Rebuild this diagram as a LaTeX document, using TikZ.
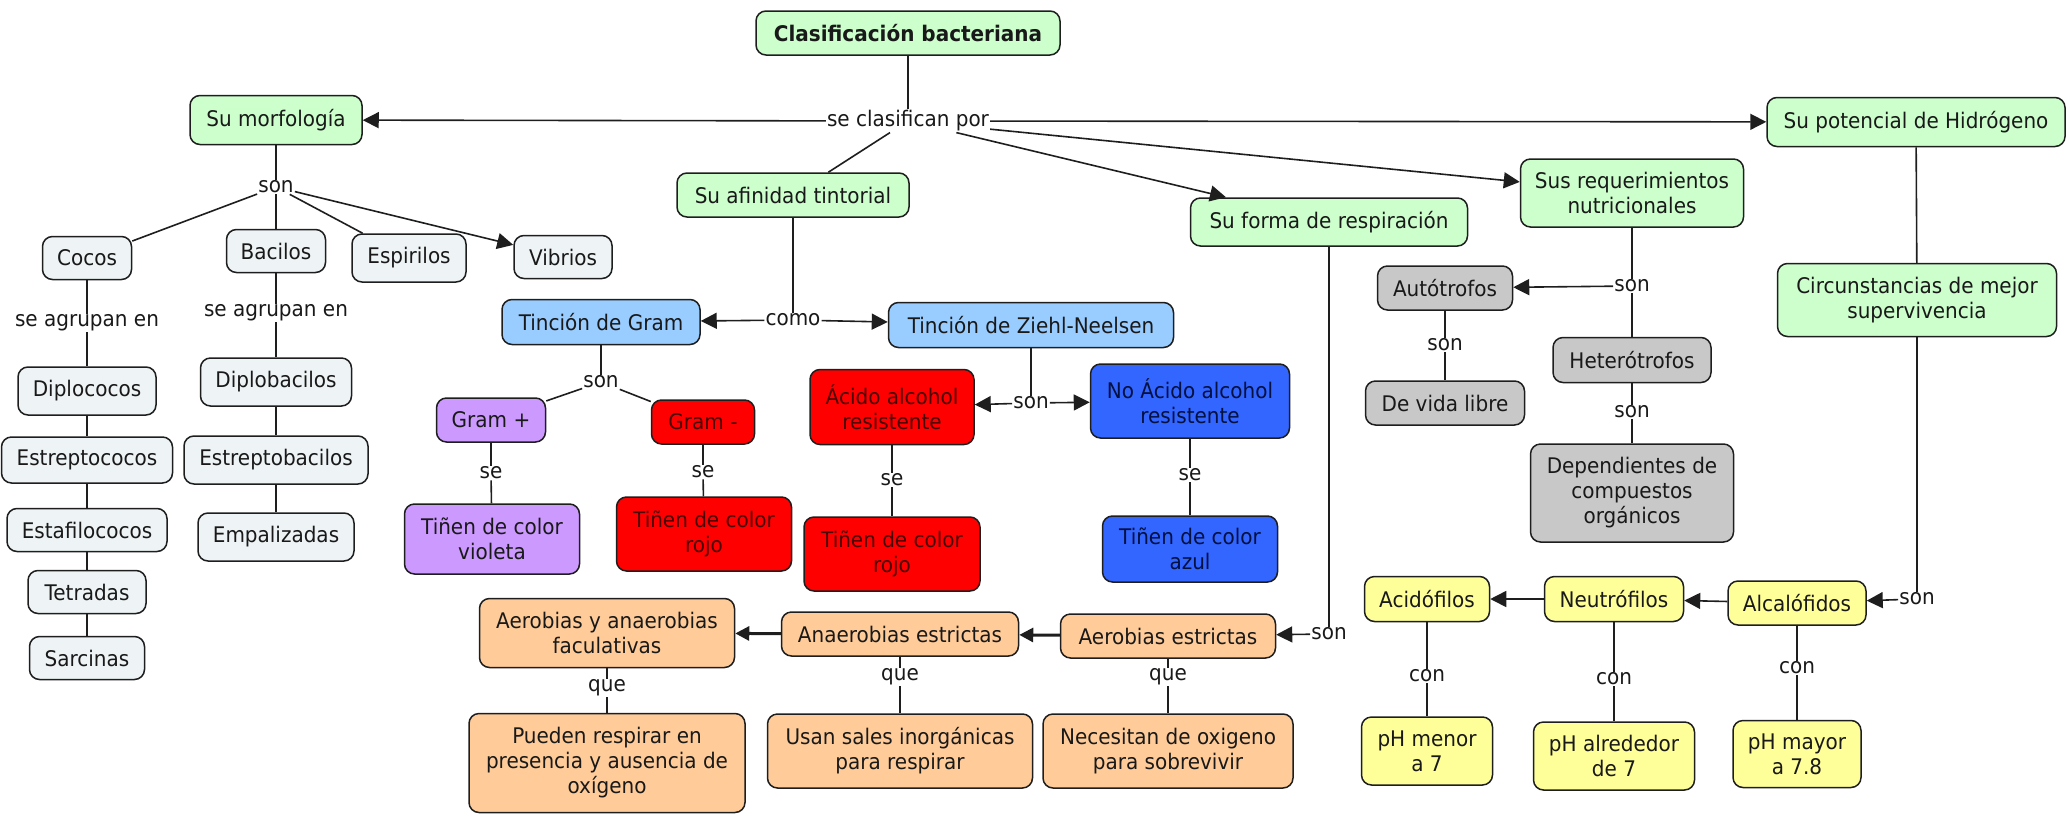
\documentclass[tikz,border=0pt]{standalone}
\usepackage{fontspec}
\setmainfont{DejaVu Sans}[FakeStretch=0.93]
\usetikzlibrary{arrows.meta}
\definecolor{cgreen}{HTML}{CCFFCC}
\definecolor{clight}{HTML}{EEF3F5}
\definecolor{clblue}{HTML}{99CCFF}
\definecolor{cviol}{HTML}{CC99FF}
\definecolor{cred}{HTML}{FF0000}
\definecolor{cblue}{HTML}{3366FF}
\definecolor{cgray}{HTML}{C8C8C8}
\definecolor{corange}{HTML}{FFCC99}
\definecolor{cyellow}{HTML}{FFFF99}
\definecolor{cline}{HTML}{1E1E1E}
\definecolor{credtext}{HTML}{4A0000}
\definecolor{cbluetext}{HTML}{001040}
\tikzset{
  box/.style={draw=cline, line width=1.5pt, rounded corners=10pt, align=center, inner sep=2pt, text=black!90},
  gr/.style={box, fill=cgreen},
  lt/.style={box, fill=clight},
  lb/.style={box, fill=clblue},
  vi/.style={box, fill=cviol},
  rd/.style={box, fill=cred, text=credtext},
  bl/.style={box, fill=cblue, text=cbluetext},
  gy/.style={box, fill=cgray},
  og/.style={box, fill=corange},
  ye/.style={box, fill=cyellow},
  lbl/.style={inner sep=1pt, text=black!90},
  con/.style={draw=cline, line width=1.6pt},
  arr/.style={con, -{Triangle[length=16pt,width=16pt]}},
  thickarr/.style={con, line width=3pt, -{Triangle[length=14pt,width=14pt]}},
}
\newcommand\mynode[6]{\node[#1, minimum width=#4pt, minimum height=#5pt] (#2) at (#3) {#6};}
\begin{document}
\begin{tikzpicture}[x=1pt,y=-1pt,font=\fontsize{21.5pt}{25pt}\selectfont]
\useasboundingbox (0,0) rectangle (2070,817);
% green
\mynode{gr}{title}{908,33}{304}{44}{\bfseries Clasificación bacteriana}
\mynode{gr}{morf}{276,120}{172}{49}{Su morfología}
\mynode{gr}{afin}{793,195}{232}{44}{Su afinidad tintorial}
\mynode{gr}{resp}{1329,222}{277}{48}{Su forma de respiración}
\mynode{gr}{req}{1632,193}{223}{68}{Sus requerimientos\\nutricionales}
\mynode{gr}{pot}{1916,122}{298}{49}{Su potencial de Hidrógeno}
\mynode{gr}{circ}{1917,300}{279}{73}{Circunstancias de mejor\\supervivencia}
% morphology
\mynode{lt}{cocos}{87,258}{89}{43}{Cocos}
\mynode{lt}{bacilos}{276,251}{99}{43}{Bacilos}
\mynode{lt}{espir}{409,258}{114}{48}{Espirilos}
\mynode{lt}{vibr}{563,257}{98}{43}{Vibrios}
\mynode{lt}{diploc}{87,391}{138}{48}{Diplococos}
\mynode{lt}{estrc}{87,460}{171}{46}{Estreptococos}
\mynode{lt}{estaf}{87,530}{160}{43}{Estafilococos}
\mynode{lt}{tetr}{87,592}{118}{43}{Tetradas}
\mynode{lt}{sarc}{87,658}{115}{43}{Sarcinas}
\mynode{lt}{diplob}{276,382}{151}{48}{Diplobacilos}
\mynode{lt}{estrb}{276,460}{184}{48}{Estreptobacilos}
\mynode{lt}{empal}{276,537}{156}{48}{Empalizadas}
% staining
\mynode{lb}{gram}{601,322}{198}{45}{Tinción de Gram}
\mynode{lb}{zn}{1031,325}{285}{45}{Tinción de Ziehl-Neelsen}
\mynode{vi}{gpos}{491,420}{109}{44}{Gram +}
\mynode{vi}{violeta}{492,539}{175}{70}{Tiñen de color\\violeta}
\mynode{rd}{gneg}{703,422}{103}{44}{Gram -}
\mynode{rd}{rojoa}{704,534}{175}{74}{Tiñen de color\\rojo}
\mynode{rd}{acido}{892,407}{164}{75}{Ácido alcohol\\resistente}
\mynode{rd}{rojob}{892,554}{176}{74}{Tiñen de color\\rojo}
\mynode{bl}{noacido}{1190,401}{199}{74}{No Ácido alcohol\\resistente}
\mynode{bl}{azul}{1190,549}{175}{66}{Tiñen de color\\azul}
% nutrition
\mynode{gy}{auto}{1445,288}{135}{44}{Autótrofos}
\mynode{gy}{vida}{1445,403}{159}{44}{De vida libre}
\mynode{gy}{het}{1632,360}{158}{45}{Heterótrofos}
\mynode{gy}{dep}{1632,493}{203}{98}{Dependientes de\\compuestos\\orgánicos}
% respiration
\mynode{og}{ayan}{607,633}{255}{69}{Aerobias y anaerobias\\faculativas}
\mynode{og}{anae}{900,634}{237}{44}{Anaerobias estrictas}
\mynode{og}{aer}{1168,636}{215}{44}{Aerobias estrictas}
\mynode{og}{pued}{607,763}{276}{99}{Pueden respirar en\\presencia y ausencia de\\oxígeno}
\mynode{og}{usan}{900,751}{265}{74}{Usan sales inorgánicas\\para respirar}
\mynode{og}{nec}{1168,751}{250}{74}{Necesitan de oxigeno\\para sobrevivir}
% pH
\mynode{ye}{acid}{1427,599}{125}{45}{Acidófilos}
\mynode{ye}{neut}{1614,599}{139}{45}{Neutrófilos}
\mynode{ye}{alca}{1797,603}{138}{44}{Alcalófidos}
\mynode{ye}{pmen}{1427,751}{131}{68}{pH menor\\a 7}
\mynode{ye}{palr}{1614,756}{161}{68}{pH alrededor\\de 7}
\mynode{ye}{pmay}{1797,754}{128}{67}{pH mayor\\a 7.8}
% labels
\node[lbl] (clasif) at (908,121) {se clasifican por};
\node[lbl] (sona) at (276,187) {son};
\node[lbl] (agra) at (87,323) {se agrupan en};
\node[lbl] (agrb) at (276,313) {se agrupan en};
\node[lbl] (como) at (793,320) {como};
\node[lbl] (sonb) at (601,382) {son};
\node[lbl] (sea) at (491,473) {se};
\node[lbl] (seb) at (703,472) {se};
\node[lbl] (sonc) at (1031,403) {son};
\node[lbl] (sec) at (892,480) {se};
\node[lbl] (sed) at (1190,475) {se};
\node[lbl] (sond) at (1632,286) {son};
\node[lbl] (sone) at (1445,345) {son};
\node[lbl] (sonf) at (1632,412) {son};
\node[lbl] (song) at (1329,634) {son};
\node[lbl] (quea) at (607,688) {que};
\node[lbl] (queb) at (900,677) {que};
\node[lbl] (quec) at (1168,677) {que};
\node[lbl] (sonh) at (1917,599) {son};
\node[lbl] (cona) at (1427,676) {con};
\node[lbl] (conb) at (1614,679) {con};
\node[lbl] (conc) at (1797,668) {con};
% connectors
\draw[con] (title) -- (clasif);
\draw[arr] (clasif) -- (morf);
\draw[con] (clasif) -- (afin);
\draw[arr] (clasif) -- (resp);
\draw[arr] (clasif) -- (req);
\draw[arr] (clasif) -- (pot);
\draw[con] (morf) -- (sona);
\draw[con] (sona) -- (cocos);
\draw[con] (sona) -- (bacilos);
\draw[con] (sona) -- (espir);
\draw[arr] (sona) -- (vibr);
\draw[con] (cocos) -- (agra);
\draw[con] (agra) -- (diploc);
\draw[con] (diploc) -- (estrc);
\draw[con] (estrc) -- (estaf);
\draw[con] (estaf) -- (tetr);
\draw[con] (tetr) -- (sarc);
\draw[con] (bacilos) -- (agrb);
\draw[con] (agrb) -- (diplob);
\draw[con] (diplob) -- (estrb);
\draw[con] (estrb) -- (empal);
\draw[con] (afin) -- (como);
\draw[arr] (como) -- (gram);
\draw[arr] (como) -- (zn);
\draw[con] (gram) -- (sonb);
\draw[con] (sonb) -- (gpos);
\draw[con] (sonb) -- (gneg);
\draw[con] (gpos) -- (sea);
\draw[con] (sea) -- (violeta);
\draw[con] (gneg) -- (seb);
\draw[con] (seb) -- (rojoa);
\draw[con] (zn) -- (sonc);
\draw[arr] (sonc) -- (acido);
\draw[arr] (sonc) -- (noacido);
\draw[con] (acido) -- (sec);
\draw[con] (sec) -- (rojob);
\draw[con] (noacido) -- (sed);
\draw[con] (sed) -- (azul);
\draw[con] (req) -- (sond);
\draw[arr] (sond) -- (auto);
\draw[con] (sond) -- (het);
\draw[con] (auto) -- (sone);
\draw[con] (sone) -- (vida);
\draw[con] (het) -- (sonf);
\draw[con] (sonf) -- (dep);
\draw[con] (pot) -- (circ);
\draw[con] (circ) -- (sonh);
\draw[arr] (sonh) -- (alca);
\draw[arr] (alca) -- (neut);
\draw[arr] (neut) -- (acid);
\draw[con] (acid) -- (cona);
\draw[con] (cona) -- (pmen);
\draw[con] (neut) -- (conb);
\draw[con] (conb) -- (palr);
\draw[con] (alca) -- (conc);
\draw[con] (conc) -- (pmay);
\draw[con] (resp) -- (song);
\draw[arr] (song) -- (aer);
\draw[thickarr] (aer) -- (anae);
\draw[thickarr] (anae) -- (ayan);
\draw[con] (ayan) -- (quea);
\draw[con] (quea) -- (pued);
\draw[con] (anae) -- (queb);
\draw[con] (queb) -- (usan);
\draw[con] (aer) -- (quec);
\draw[con] (quec) -- (nec);
\end{tikzpicture}
\end{document}
